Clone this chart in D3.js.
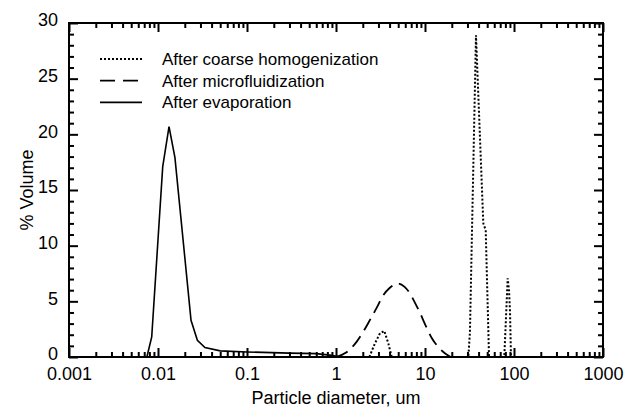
<!DOCTYPE html>
<html>
<head>
<meta charset="utf-8">
<script src="https://cdn.jsdelivr.net/npm/d3@7"></script>
<style>
    body { margin: 0; background: #fff; }
    text { font-family: "Liberation Sans", Arial, sans-serif; fill: #000; }
</style>
</head>
<body>
<div id="graph"></div>
<script>
// particle size distributions
const seriesNames = ["After coarse homogenization", "After microfluidization", "After evaporation"];

const coarseDiam = [2.37, 2.74, 3.12, 3.49, 3.87, 4.23, 30.7, 32.0, 37.4, 45.2, 48.1, 52.4, 77.8, 84.9, 87.9, 90.2, 92.5];
const coarseVol  = [0, 1.23, 2.13, 2.34, 1.23, 0, 0, 2.3, 28.9, 12.0, 11.4, 0, 0, 7.07, 6.0, 4.07, 0];

const microDiam = [1.0, 1.3, 1.71, 2.0, 2.41, 2.9, 3.37, 4.0, 5.0, 5.9, 6.78, 7.8, 8.79, 10.2, 11.9, 14.5, 17.0, 19.1];
const microVol  = [0, 0.4, 1.38, 2.2, 3.33, 4.5, 5.5, 6.2, 6.6, 6.3, 5.7, 4.8, 3.96, 2.8, 1.71, 0.8, 0.3, 0.05];

const evapDiam = [0.0075, 0.0085, 0.0113, 0.0133, 0.0155, 0.0235, 0.0277, 0.0337, 0.05, 0.1, 0.3, 0.6, 0.9, 1.1];
const evapVol  = [0, 1.8, 17.1, 20.7, 17.9, 3.3, 1.5, 0.85, 0.55, 0.45, 0.35, 0.3, 0.15, 0];

const xTicks = [0.001, 0.01, 0.1, 1, 10, 100, 1000];
const yTicks = [0, 5, 10, 15, 20, 25, 30];

const width = 627, height = 408;
const margin = {top: 23, right: 24, bottom: 51, left: 69};

let svg = d3.select("#graph")
    .append("svg")
    .attr("width", width)
    .attr("height", height);

let x = d3.scaleLog()
    .domain([0.001, 1000])
    .range([margin.left, width - margin.right]);

let y = d3.scaleLinear()
    .domain([0, 30])
    .range([height - margin.bottom, margin.top]);

// minor ticks: 2..9 in every decade, every 1 % on y
let xMinor = [];
xTicks.slice(0, -1).forEach(function(t) {
    for (let k = 2; k <= 9; k++) xMinor.push(t * k);
});
let yMinor = d3.range(0, 31).filter(v => v % 5 !== 0);

const fmt = d => (d < 1 ? d.toString() : d3.format("d")(d));

function tickAxis(axis, pos, values, len, labels) {
    let a = axis.tickValues(values).tickSizeInner(-len).tickSizeOuter(0);
    a = labels ? a.tickFormat(fmt) : a.tickFormat("");
    let g = svg.append("g").attr("transform", pos).call(a);
    g.select(".domain").remove();
    g.selectAll(".tick line").attr("stroke", "#000").attr("stroke-width", 2);
    return g;
}

let bottomY = height - margin.bottom;
let rightX = width - margin.right;

tickAxis(d3.axisBottom(x), `translate(0, ${bottomY})`, xMinor, 5, false);
tickAxis(d3.axisTop(x), `translate(0, ${margin.top})`, xMinor, 5, false);
tickAxis(d3.axisTop(x), `translate(0, ${margin.top})`, xTicks, 9, false);
tickAxis(d3.axisLeft(y), `translate(${margin.left}, 0)`, yMinor, 5, false);
tickAxis(d3.axisRight(y), `translate(${rightX}, 0)`, yMinor, 5, false);
tickAxis(d3.axisRight(y), `translate(${rightX}, 0)`, yTicks, 9, false);

let xAxis = tickAxis(d3.axisBottom(x).tickPadding(10), `translate(0, ${bottomY})`, xTicks, 9, true);
xAxis.selectAll("text").style("font-size", "18px");

let yAxis = tickAxis(d3.axisLeft(y).tickPadding(11), `translate(${margin.left}, 0)`, yTicks, 9, true);
yAxis.selectAll("text")
    .style("font-size", "18px")
    .attr("dy", "0.16em");

// data lines
let line = d3.line()
    .x(d => x(d[0]))
    .y(d => y(d[1]));

let smooth = d3.line()
    .x(d => x(d[0]))
    .y(d => y(d[1]))
    .curve(d3.curveMonotoneX);

const styles = [
    {dash: "2,2", width: 2},
    {dash: "13,7", width: 1.8},
    {dash: null, width: 1.6}
];

let plot = svg.append("g");

plot.append("path")
    .datum(d3.zip(coarseDiam, coarseVol))
    .attr("d", line)
    .attr("fill", "none")
    .attr("stroke", "#000")
    .attr("stroke-width", styles[0].width)
    .attr("stroke-dasharray", styles[0].dash);

plot.append("path")
    .datum(d3.zip(microDiam, microVol))
    .attr("d", smooth)
    .attr("fill", "none")
    .attr("stroke", "#000")
    .attr("stroke-width", styles[1].width)
    .attr("stroke-dasharray", styles[1].dash);

plot.append("path")
    .datum(d3.zip(evapDiam, evapVol))
    .attr("d", line)
    .attr("fill", "none")
    .attr("stroke", "#000")
    .attr("stroke-width", styles[2].width);

// frame
svg.append("rect")
    .attr("x", margin.left)
    .attr("y", margin.top)
    .attr("width", rightX - margin.left)
    .attr("height", bottomY - margin.top)
    .attr("fill", "none")
    .attr("stroke", "#000")
    .attr("stroke-width", 2);

// legend
let legend = svg.append("g").attr("transform", "translate(100, 59)");

seriesNames.forEach(function(name, i) {
    let row = legend.append("g").attr("transform", `translate(0, ${i * 21.7})`);
    row.append("line")
        .attr("x1", 0).attr("x2", 42)
        .attr("y1", 0).attr("y2", 0)
        .attr("stroke", "#000")
        .attr("stroke-width", styles[i].width)
        .attr("stroke-dasharray", i === 1 ? "15,8" : styles[i].dash);
    row.append("text")
        .attr("x", 62)
        .attr("dy", "0.35em")
        .style("font-size", "17px")
        .text(name);
});

// axis titles
svg.append("text")
    .attr("transform", `translate(${(margin.left + rightX) / 2}, 404)`)
    .style("text-anchor", "middle")
    .style("font-size", "18px")
    .text("Particle diameter, um");

svg.append("text")
    .attr("transform", `translate(33, ${(margin.top + bottomY) / 2}) rotate(-90)`)
    .style("text-anchor", "middle")
    .style("font-size", "18px")
    .text("% Volume");
</script>
</body>
</html>
